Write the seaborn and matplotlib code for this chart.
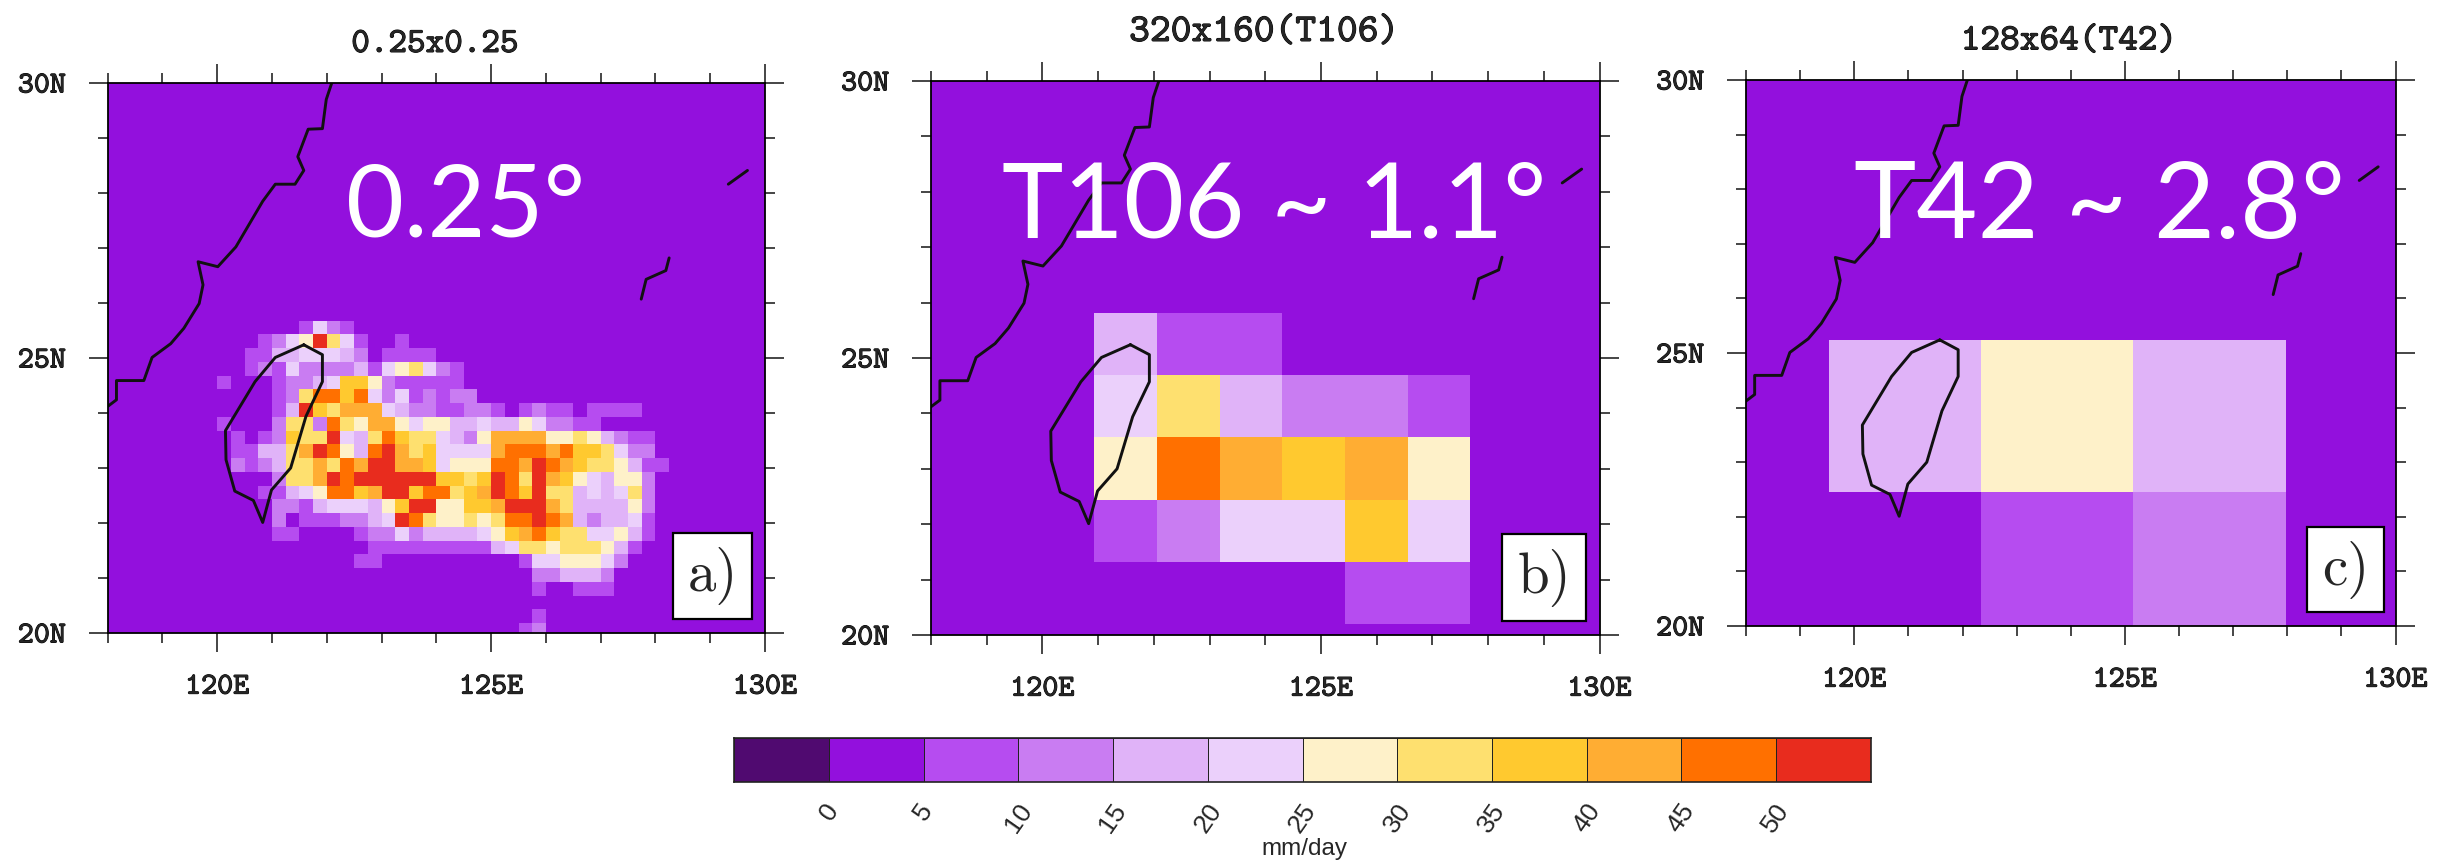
import numpy as np
import matplotlib
matplotlib.use('Agg')
import matplotlib.pyplot as plt
import matplotlib.patheffects as pe
from matplotlib.colors import ListedColormap
from matplotlib.patches import Rectangle
import seaborn as sns

W, H = 2454, 861

# color classes (mm/day), one color per bin of the label bar
cores = ['#500a70', '#9310dd', '#b64cf0', '#c97cf2', '#e0b3f8', '#ebd0fb',
         '#fef1c9', '#fee06f', '#ffc92f', '#ffad33', '#ff7000', '#e82c1e']
niveis = [0, 5, 10, 15, 20, 25, 30, 35, 40, 45, 50]
meios = [-2.5, 2.5, 7.5, 12.5, 17.5, 22.5, 27.5, 32.5, 37.5, 42.5, 47.5, 52.5]

# panel a: one char per cell (0.25 deg), first col = 120E, first row top = 25.68N
# '.' = 0-5, 2 = 5-10, 3 = 10-15 ... 9 = 40-45, a = 45-50, b = >50
grade_a = [
    '......2532',
    '...2356b752..2',
    '..224455543.2222',
    '..2325333342567532',
    '2...23345886322222',
    '....237aa8a53523233',
    '....24b87999543322332.2322.2222',
    '2...3773a7699656644544653322',
    '.2.23877b547a8775436999966764322',
    '.224479ba64ab97855559aaa9a887533',
    '.32347797a9bb9985666aa9ba98776422',
    '....3779babbbbbb8878ba7b98654663',
    '...22456aa89bb8aa789ba8b77454573',
    '....3324555468bb66889bbb97444463',
    '....3.2223345ba766767aaba9434452',
    '....22....2335344445689a87755642',
    '...........22222222245776777642',
    '..........22..........25566653',
    '.......................334443',
    '.......................2..222',
    '',
    '.......................2',
    '......................23',
]

# panel b: T106 cells, 1.125 deg
grade_b = [
    [2.5, 2.5, 2.5, 2.5, 2.5, 2.5, 2.5, 2.5, 2.5, 2.5, 2.5, 2.5],
    [2.5, 2.5, 2.5, 2.5, 2.5, 2.5, 2.5, 2.5, 2.5, 2.5, 2.5, 2.5],
    [2.5, 2.5, 2.5, 2.5, 2.5, 2.5, 2.5, 2.5, 2.5, 2.5, 2.5, 2.5],
    [2.5, 2.5, 2.5, 2.5, 2.5, 2.5, 2.5, 2.5, 2.5, 2.5, 2.5, 2.5],
    [2.5, 2.5, 2.5, 17.5, 7.5, 7.5, 2.5, 2.5, 2.5, 2.5, 2.5, 2.5],
    [2.5, 2.5, 2.5, 22.5, 32.5, 17.5, 12.5, 12.5, 7.5, 2.5, 2.5, 2.5],
    [2.5, 2.5, 2.5, 27.5, 47.5, 42.5, 37.5, 42.5, 27.5, 2.5, 2.5, 2.5],
    [2.5, 2.5, 2.5, 7.5, 12.5, 22.5, 22.5, 37.5, 22.5, 2.5, 2.5, 2.5],
    [2.5, 2.5, 2.5, 2.5, 2.5, 2.5, 2.5, 7.5, 7.5, 2.5, 2.5, 2.5],
    [2.5, 2.5, 2.5, 2.5, 2.5, 2.5, 2.5, 2.5, 2.5, 2.5, 2.5, 2.5],
]

# panel c: T42 cells, 2.8 deg
grade_c = [
    [2.5, 2.5, 2.5, 2.5, 2.5],
    [2.5, 2.5, 2.5, 2.5, 2.5],
    [2.5, 17.5, 27.5, 17.5, 2.5],
    [2.5, 2.5, 7.5, 12.5, 2.5],
]

# coast lines (lon, lat)
taiwan_lon = [121.58, 121.92, 121.92, 121.62, 121.34, 120.99, 120.83, 120.66, 120.32, 120.16, 120.15, 120.69, 121.06, 121.58]
taiwan_lat = [25.24, 25.06, 24.57, 23.94, 23.0, 22.6, 22.01, 22.41, 22.58, 23.15, 23.68, 24.57, 25.01, 25.24]
china_lon = [122.09, 121.99, 121.92, 121.66, 121.47, 121.58, 121.42, 121.06, 120.83, 120.34, 120.01, 119.65, 119.74, 119.67, 119.39, 119.15, 118.81, 118.66, 118.16, 118.16, 118.0]
china_lat = [30.0, 29.7, 29.17, 29.16, 28.66, 28.41, 28.16, 28.16, 27.85, 27.02, 26.66, 26.75, 26.33, 25.99, 25.54, 25.26, 25.01, 24.59, 24.59, 24.24, 24.12]
ryukyu1_lon = [128.25, 128.19, 127.83, 127.74]
ryukyu1_lat = [26.82, 26.59, 26.43, 26.07]
ryukyu2_lon = [129.68, 129.33]
ryukyu2_lat = [28.41, 28.16]

lon_ticks = [118, 119, 120, 121, 122, 123, 124, 125, 126, 127, 128, 129, 130]
lat_ticks = [20, 21, 22, 23, 24, 25, 26, 27, 28, 29, 30]

# NCL text looks heavier than cmtt10, so thicken it a little
grosso = [pe.withStroke(linewidth=0.7, foreground='black')]


def monta_a():
    codigo = {'.': 2.5, '2': 7.5, '3': 12.5, '4': 17.5, '5': 22.5, '6': 27.5,
              '7': 32.5, '8': 37.5, '9': 42.5, 'a': 47.5, 'b': 52.5}
    m = np.full((41, 48), 2.5)
    for i, linha in enumerate(grade_a):
        for j, c in enumerate(linha):
            m[18 + i, 8 + j] = codigo[c]
    return m


def px_ax(l, t, r, b):
    return [l / W, 1 - b / H, (r - l) / W, (b - t) / H]


def texto(x, y, s, **kw):
    fig.text(x / W, 1 - y / H, s, ha='center', va='center', **kw)


def painel(pos, dados, lon0, dlon, lat0, dlat):
    ax = fig.add_axes(px_ax(*pos))
    sns.heatmap(dados, ax=ax, cmap=cmap, vmin=-5, vmax=55, cbar=False,
                xticklabels=False, yticklabels=False)

    # heatmap works in cell index, so convert lon/lat to it
    fx = lambda lon: (np.array(lon) - lon0) / dlon
    fy = lambda lat: (lat0 - np.array(lat)) / dlat

    for lo, la in [(taiwan_lon, taiwan_lat), (china_lon, china_lat),
                   (ryukyu1_lon, ryukyu1_lat), (ryukyu2_lon, ryukyu2_lat)]:
        ax.plot(fx(lo), fy(la), color='#111111', lw=2.1, clip_on=True)

    ax.set_xlim(fx(118), fx(130))
    ax.set_ylim(fy(20), fy(30))
    ax.set_xticks(fx([120, 125, 130]))
    ax.set_xticklabels(['120E', '125E', '130E'], family='cmtt10', fontsize=22, path_effects=grosso)
    ax.set_yticks(fy([20, 25, 30]))
    ax.set_yticklabels(['20N', '25N', '30N'], family='cmtt10', fontsize=22, path_effects=grosso)
    ax.set_xticks(fx(lon_ticks), minor=True)
    ax.set_yticks(fy(lat_ticks), minor=True)
    ax.tick_params(which='major', length=14, width=1.2, direction='out', top=True, right=True, bottom=True, left=True, pad=16)
    ax.tick_params(which='minor', length=7, width=1.2, direction='out', top=True, right=True, bottom=True, left=True)
    ax.tick_params(axis='y', which='major', pad=16)
    for s in ax.spines.values():
        s.set_visible(True)
        s.set_linewidth(1.3)
        s.set_color('black')
    return ax


sns.set_theme(style='white')
cmap = ListedColormap(cores)

fig = plt.figure(figsize=(W / 100, H / 100), dpi=100, facecolor='white')

painel((107.7, 83, 765, 633), monta_a(), 118, 0.25, 30.18, 0.25)
painel((931, 81, 1599.5, 635), np.array(grade_b), 117.555, 1.125, 30.32, 1.125)
painel((1746, 80, 2395.5, 626), np.array(grade_c), 116.72, 2.8125, 30.8, 2.78)

# titles
texto(435, 45, '0.25x0.25', family='cmtt10', fontsize=25.5, path_effects=grosso)
texto(1264, 33, '320x160(T106)', family='cmtt10', fontsize=28.5, path_effects=grosso)
texto(2069, 42, '128x64(T42)', family='cmtt10', fontsize=27, path_effects=grosso)

# white labels over the maps
texto(466, 208, '0.25°', family='Lato', color='white', fontsize=72)
texto(1274, 208, 'T106 ~ 1.1°', family='Lato', color='white', fontsize=75)
texto(2099, 208, 'T42 ~ 2.8°', family='Lato', color='white', fontsize=76)

# panel letters
for (l, t, r, b), letra in [((673, 533, 752, 619), 'a)'), ((1502, 534, 1586, 621), 'b)'), ((2307, 527, 2383.5, 612), 'c)')]:
    fig.add_artist(Rectangle((l / W, 1 - b / H), (r - l) / W, (b - t) / H, transform=fig.transFigure,
                             facecolor='white', edgecolor='black', linewidth=1.6, zorder=5))
    fig.text((l + r) / 2 / W, 1 - (t + b) / 2 / H, letra, ha='center', va='center',
             family='cmr10', fontsize=41, zorder=6)

# label bar, drawn as a one row heatmap
ax_barra = fig.add_axes(px_ax(734.4, 738, 1870.6, 782))
sns.heatmap([meios], ax=ax_barra, cmap=cmap, vmin=-5, vmax=55, cbar=False,
            linewidths=0.7, linecolor='#222222', xticklabels=False, yticklabels=False)
ax_barra.set_xticks(np.arange(1, 12))
ax_barra.set_xticklabels(niveis, rotation=55, family='Liberation Sans', fontsize=19)
ax_barra.tick_params(axis='x', length=0, pad=12)
for s in ax_barra.spines.values():
    s.set_visible(True)
    s.set_linewidth(1.2)
    s.set_color('#222222')
texto(1304, 849, 'mm/day', family='Liberation Sans', fontsize=17.5)

fig.savefig('out.png', dpi=100)
